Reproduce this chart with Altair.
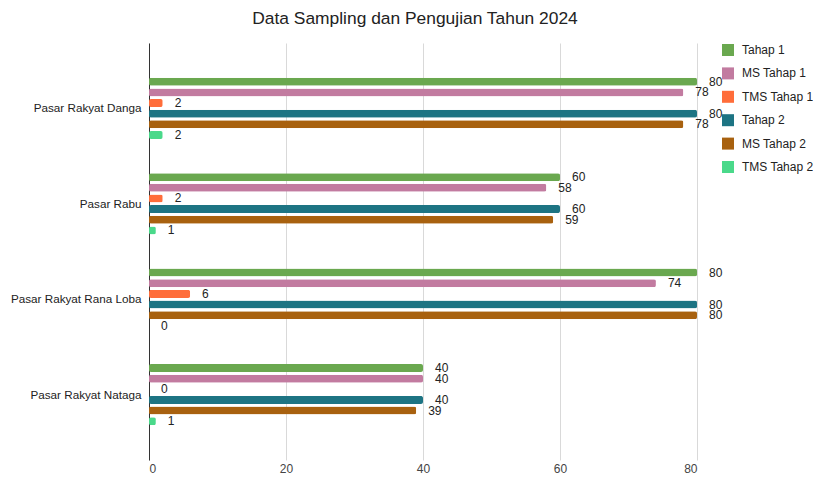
import altair as alt
import pandas as pd

categories = ["Pasar Rakyat Danga", "Pasar Rabu", "Pasar Rakyat Rana Loba", "Pasar Rakyat Nataga"]
series = ["Tahap 1", "MS Tahap 1", "TMS Tahap 1", "Tahap 2", "MS Tahap 2", "TMS Tahap 2"]
tahap1 = [80, 60, 80, 40]
ms_tahap1 = [78, 58, 74, 40]
tms_tahap1 = [2, 2, 6, 0]
tahap2 = [80, 60, 80, 40]
ms_tahap2 = [78, 59, 80, 39]
tms_tahap2 = [2, 1, 0, 1]
colors = ["#6aa84f", "#c27ba0", "#ff6d3a", "#1d7483", "#a8610f", "#4ad98a"]
x_ticks = [0, 20, 40, 60, 80]

values = [tahap1, ms_tahap1, tms_tahap1, tahap2, ms_tahap2, tms_tahap2]
rows = []
for s, vals in zip(series, values):
    for c, v in zip(categories, vals):
        rows.append({"cat": c, "series": s, "value": v})
df = pd.DataFrame(rows)

FONT = "Liberation Sans"

base = alt.Chart(df).encode(
    y=alt.Y("cat:N", sort=categories, title=None,
            scale=alt.Scale(paddingInner=0.33, paddingOuter=0.35),
            axis=alt.Axis(domain=True, domainColor="#333333", ticks=False,
                          labelFontSize=11.7, labelColor="#222222", labelPadding=8,
                          labelFont=FONT, grid=False)),
    yOffset=alt.YOffset("series:N", sort=series,
                        scale=alt.Scale(paddingInner=0.25, paddingOuter=0.125)),
    x=alt.X("value:Q", title=None,
            scale=alt.Scale(domain=[0, 80], nice=False),
            axis=alt.Axis(values=x_ticks, domain=False, ticks=False,
                          labelFontSize=12, labelColor="#444444", labelPadding=3,
                          labelFont=FONT, grid=True, gridColor="#d9d9d9")),
)

bars = base.mark_bar(cornerRadius=2, height=alt.RelativeBandSize(1)).encode(
    color=alt.Color("series:N", sort=series,
                    scale=alt.Scale(domain=series, range=colors),
                    legend=alt.Legend(orient="none", legendX=573, legendY=1, title=None,
                                      symbolType="square", symbolSize=144,
                                      symbolStrokeWidth=0, labelFontSize=12,
                                      labelColor="#222222", labelFont=FONT,
                                      rowPadding=11.4, labelOffset=8))
)

labels = base.mark_text(align="left", baseline="middle", dx=12, fontSize=12,
                        color="#222222", font=FONT).encode(text=alt.Text("value:Q"))

chart = alt.layer(bars, labels).properties(
    width=548, height=417,
    padding={"left": 141, "top": 35, "right": 116, "bottom": 14},
    autosize=alt.AutoSizeParams(type="none"),
    title=alt.Title("Data Sampling dan Pengujian Tahun 2024", fontSize=17.4,
                    fontWeight="normal", color="#222222", font=FONT,
                    offset=16, dx=-8),
).configure_view(stroke=None)

chart.save("out.html", embed_options={"renderer": "svg", "actions": False})
